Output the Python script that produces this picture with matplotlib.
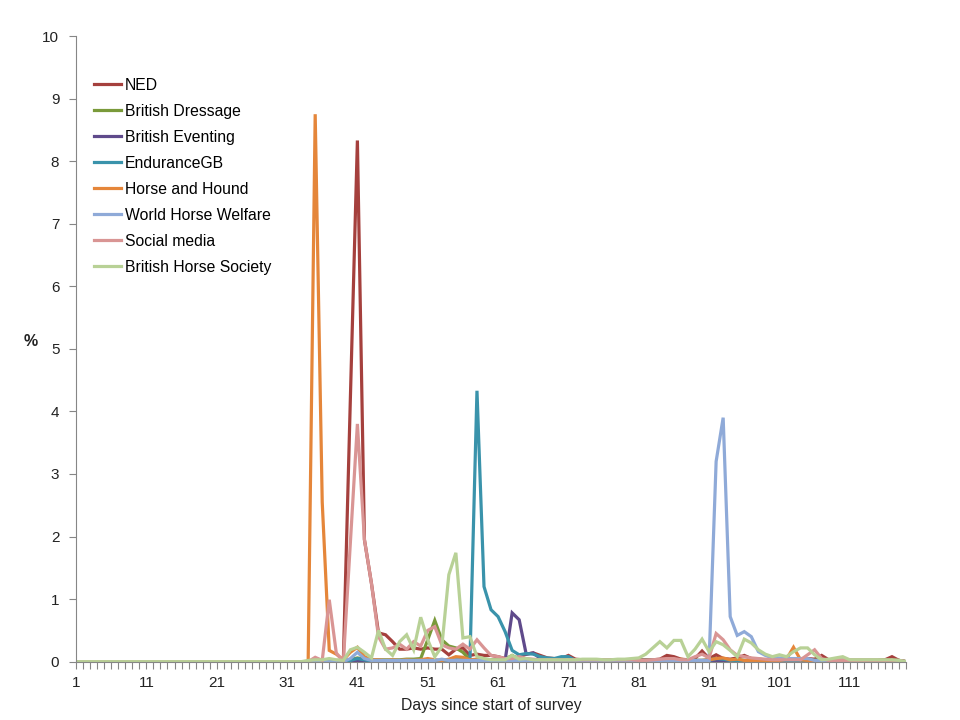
import numpy as np
import matplotlib
matplotlib.use("Agg")
import matplotlib.pyplot as plt

plt.rcParams['font.family'] = ['Liberation Sans', 'DejaVu Sans']

# days 1..119 ; values for days 1..33 are all zero
days = list(range(1, 120))
pre = [0.0] * 33

# days 34..119
ned = [0, 0, 0, 0, 0, 0, 4.2,
       8.33, 1.95, 1.25, 0.46, 0.43, 0.32, 0.2, 0.2, 0.22, 0.2,
       0.22, 0.2, 0.2, 0.11, 0.2, 0.22, 0.1, 0.12, 0.1, 0.1,
       0.08, 0.05, 0.05, 0.08, 0.12, 0.14, 0.1, 0.06, 0.05, 0.05,
       0.1, 0.04, 0.03, 0.02, 0.02, 0.03, 0.03, 0.02, 0.03, 0.03,
       0.03, 0.03, 0.03, 0.04, 0.1, 0.08, 0.04, 0.03, 0.05, 0.17,
       0.05, 0.11, 0.05, 0.04, 0.06, 0.1, 0.05, 0.04, 0.03, 0.02,
       0.02, 0.03, 0.03, 0.04, 0.05, 0.04, 0.1, 0.03, 0.02, 0.02,
       0.02, 0.02, 0.02, 0.02, 0.02, 0.03, 0.08, 0.02, 0.0]
dressage = [0, 0, 0, 0.02, 0.02, 0.02, 0.03,
            0.06, 0.04, 0.03, 0.03, 0.03, 0.03, 0.03, 0.04, 0.04, 0.05,
            0.35, 0.66, 0.35, 0.25, 0.22, 0.15, 0.03, 0.03, 0.04, 0.03,
            0.03, 0.04, 0.1, 0.04, 0.03, 0.03, 0.03, 0.02, 0.02, 0.02,
            0.02, 0.02, 0.02, 0.02, 0.02, 0.02, 0.02, 0.02, 0.02, 0.02,
            0.02, 0.02, 0.02, 0.02, 0.02, 0.02, 0.02, 0.02, 0.02, 0.02,
            0.03, 0.05, 0.04, 0.03, 0.03, 0.02, 0.02, 0.02, 0.02, 0.02,
            0.02, 0.02, 0.02, 0.02, 0.02, 0.02, 0.02, 0.02, 0.02, 0.02,
            0.02, 0.02, 0.02, 0.02, 0.02, 0.02, 0.02, 0.02, 0.0]
eventing = [0, 0, 0, 0, 0, 0, 0.01,
            0.02, 0.01, 0.01, 0.01, 0.01, 0.01, 0.01, 0.01, 0.01, 0.01,
            0.01, 0.01, 0.01, 0.01, 0.01, 0.01, 0.01, 0.01, 0.01, 0.01,
            0.01, 0.02, 0.78, 0.67, 0.12, 0.14, 0.05, 0.02, 0.02, 0.02,
            0.01, 0.01, 0.01, 0.01, 0.01, 0.01, 0.01, 0.01, 0.01, 0.01,
            0.01, 0.01, 0.01, 0.01, 0.01, 0.01, 0.01, 0.01, 0.01, 0.01,
            0.01, 0.02, 0.02, 0.01, 0.01, 0.01, 0.01, 0.01, 0.01, 0.01,
            0.01, 0.01, 0.01, 0.01, 0.01, 0.01, 0.01, 0.01, 0.01, 0.01,
            0.01, 0.01, 0.01, 0.01, 0.01, 0.01, 0.01, 0.01, 0.0]
endurance = [0, 0, 0, 0, 0, 0, 0.02,
             0.05, 0.03, 0.01, 0.01, 0.01, 0.01, 0.01, 0.01, 0.01, 0.02,
             0.02, 0.02, 0.02, 0.02, 0.03, 0.03, 0.02, 4.33, 1.2, 0.83,
             0.72, 0.48, 0.18, 0.11, 0.13, 0.12, 0.08, 0.06, 0.05, 0.08,
             0.08, 0.02, 0.02, 0.02, 0.02, 0.02, 0.02, 0.02, 0.02, 0.02,
             0.02, 0.02, 0.02, 0.02, 0.02, 0.02, 0.02, 0.02, 0.02, 0.02,
             0.02, 0.05, 0.04, 0.02, 0.02, 0.02, 0.02, 0.02, 0.02, 0.02,
             0.02, 0.02, 0.02, 0.02, 0.02, 0.02, 0.02, 0.02, 0.02, 0.02,
             0.02, 0.02, 0.02, 0.02, 0.02, 0.02, 0.02, 0.02, 0.0]
hound = [0, 8.75, 2.55, 0.18, 0.12, 0.03, 0.15,
         0.23, 0.08, 0.03, 0.03, 0.02, 0.03, 0.02, 0.03, 0.02, 0.03,
         0.05, 0.03, 0.02, 0.04, 0.08, 0.07, 0.03, 0.04, 0.02, 0.02,
         0.02, 0.02, 0.02, 0.02, 0.02, 0.02, 0.02, 0.02, 0.02, 0.02,
         0.02, 0.02, 0.02, 0.02, 0.02, 0.02, 0.02, 0.02, 0.02, 0.02,
         0.02, 0.02, 0.02, 0.02, 0.02, 0.02, 0.04, 0.02, 0.02, 0.02,
         0.03, 0.05, 0.06, 0.03, 0.04, 0.02, 0.02, 0.02, 0.02, 0.02,
         0.02, 0.04, 0.23, 0.03, 0.02, 0.02, 0.02, 0.02, 0.02, 0.02,
         0.02, 0.02, 0.02, 0.02, 0.02, 0.02, 0.02, 0.02, 0.0]
welfare = [0, 0, 0, 0, 0, 0, 0.05,
           0.15, 0.05, 0.02, 0.02, 0.02, 0.02, 0.02, 0.02, 0.02, 0.02,
           0.02, 0.02, 0.04, 0.02, 0.02, 0.02, 0.02, 0.02, 0.02, 0.02,
           0.02, 0.02, 0.02, 0.02, 0.02, 0.02, 0.02, 0.02, 0.02, 0.02,
           0.02, 0.02, 0.02, 0.02, 0.02, 0.02, 0.02, 0.02, 0.02, 0.02,
           0.02, 0.02, 0.02, 0.02, 0.02, 0.02, 0.02, 0.02, 0.02, 0.02,
           0.02, 3.2, 3.9, 0.72, 0.42, 0.48, 0.4, 0.16, 0.1, 0.06,
           0.06, 0.05, 0.05, 0.05, 0.05, 0.02, 0.02, 0.02, 0.02, 0.02,
           0.01, 0.01, 0.01, 0.01, 0.01, 0.01, 0.01, 0.01, 0.0]
social = [0, 0.07, 0.02, 0.99, 0.14, 0.0, 1.9,
          3.8, 1.95, 1.25, 0.4, 0.2, 0.22, 0.28, 0.2, 0.32, 0.25,
          0.5, 0.56, 0.27, 0.22, 0.2, 0.28, 0.2, 0.35, 0.22, 0.1,
          0.08, 0.05, 0.05, 0.08, 0.05, 0.04, 0.03, 0.03, 0.03, 0.03,
          0.03, 0.03, 0.03, 0.03, 0.03, 0.03, 0.03, 0.03, 0.03, 0.03,
          0.02, 0.02, 0.03, 0.04, 0.05, 0.05, 0.03, 0.03, 0.08, 0.12,
          0.06, 0.45, 0.35, 0.19, 0.1, 0.08, 0.06, 0.05, 0.04, 0.03,
          0.03, 0.03, 0.03, 0.03, 0.11, 0.19, 0.05, 0.02, 0.02, 0.02,
          0.02, 0.02, 0.02, 0.02, 0.02, 0.02, 0.02, 0.02, 0.0]
bhs = [0.02, 0.03, 0.03, 0.05, 0.03, 0.02, 0.19,
       0.23, 0.15, 0.06, 0.5, 0.2, 0.1, 0.32, 0.43, 0.19, 0.71,
       0.35, 0.08, 0.24, 1.39, 1.74, 0.38, 0.4, 0.08, 0.05, 0.03,
       0.03, 0.03, 0.1, 0.04, 0.05, 0.03, 0.03, 0.03, 0.03, 0.03,
       0.03, 0.03, 0.04, 0.04, 0.04, 0.03, 0.03, 0.04, 0.04, 0.05,
       0.06, 0.12, 0.22, 0.32, 0.22, 0.34, 0.34, 0.08, 0.2, 0.36,
       0.16, 0.32, 0.27, 0.18, 0.08, 0.36, 0.3, 0.19, 0.12, 0.08,
       0.11, 0.08, 0.16, 0.22, 0.22, 0.11, 0.03, 0.04, 0.06, 0.08,
       0.03, 0.03, 0.03, 0.03, 0.03, 0.03, 0.03, 0.02, 0.0]

names = ["NED", "British Dressage", "British Eventing", "EnduranceGB",
         "Horse and Hound", "World Horse Welfare", "Social media",
         "British Horse Society"]
colors = ["#A5403D", "#7A9A3A", "#5F4A8B", "#3A93AB",
          "#E5863A", "#8FAAD8", "#D99594", "#B8D196"]
series = [ned, dressage, eventing, endurance, hound, welfare, social, bhs]

fig = plt.figure(figsize=(9.6, 7.2), dpi=100)
ax = fig.add_axes([0.0792, 0.081, 0.8646, 0.869])

for name, col, vals in zip(names, colors, series):
    ax.plot(days, pre + vals, color=col, lw=2.3, label=name,
            solid_joinstyle="miter")

ax.set_xlim(1, 119)
ax.set_ylim(0, 10)
ax.set_yticks(range(0, 11))
ax.set_xticks(days)
ax.set_xticklabels([str(d) if (d - 1) % 10 == 0 else "" for d in days])

for s in ["top", "right"]:
    ax.spines[s].set_visible(False)
for s in ["left", "bottom"]:
    ax.spines[s].set_color("#868686")
ax.tick_params(direction="out", length=5, color="#868686",
               labelsize=11, labelcolor="#222222")
ax.tick_params(axis="x", pad=5)
ax.tick_params(axis="y", pad=7)

ax.set_xlabel("Days since start of survey", fontsize=11.3, color="#222222",
              labelpad=6)
ax.set_ylabel("%", rotation=0, fontsize=11.5, fontweight="bold",
              color="#222222")
ax.yaxis.set_label_coords(-0.055, 0.5)

ax.legend(loc="upper left", bbox_to_anchor=(0.008, 0.951), frameon=False,
          fontsize=11.3, handlelength=1.75, handletextpad=0.25,
          labelspacing=0.7, borderaxespad=0.3)

fig.savefig("out.png", dpi=100)
